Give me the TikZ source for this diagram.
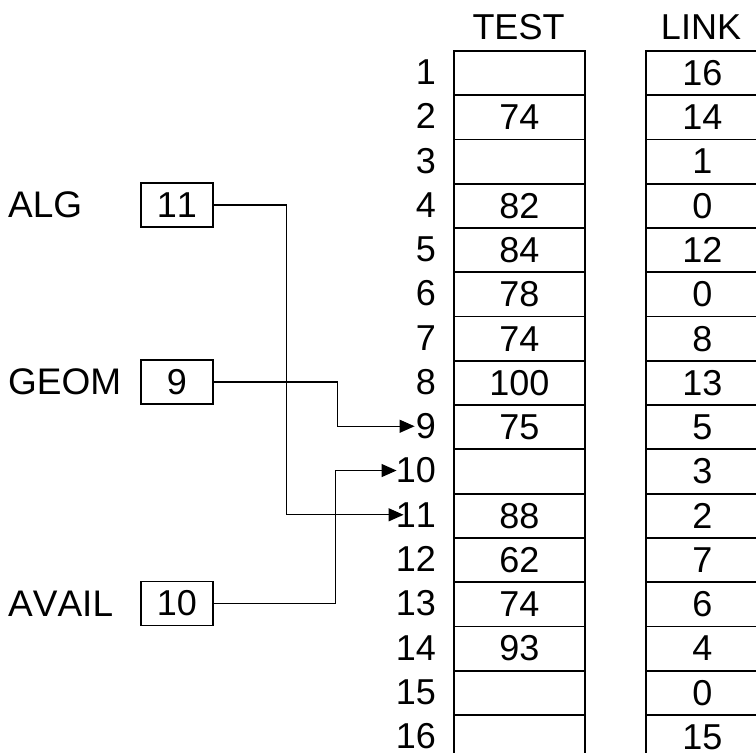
\documentclass[tikz,border=0pt]{standalone}
\usepackage{fontspec}
\setmainfont[Kerning=Off]{Liberation Sans}
\usetikzlibrary{arrows.meta}
\begin{document}
\begin{tikzpicture}[x=1pt,y=-1pt,
  every node/.style={font=\fontsize{36}{40}\selectfont, inner sep=0pt},
  cell/.style={draw, line width=1.8pt, minimum height=44.27pt, anchor=north west},
  testcell/.style={cell, minimum width=131pt},
  linkcell/.style={cell, minimum width=113pt},
  varbox/.style={draw, line width=1.8pt, minimum width=72pt, minimum height=44pt},
  varname/.style={anchor=west, font=\fontsize{37}{40}\selectfont},
  rowlbl/.style={anchor=east},
  ptr/.style={line width=1.3pt, -{Triangle[length=15pt,width=13pt]}},
  wire/.style={line width=1.3pt}]
\useasboundingbox (0,0) rectangle (756,753);
\clip (0,0) rectangle (756,753);

% column headings
\node (hTEST) at (518.5,27) {TEST};
\node (hLINK) at (701,27) {LINK};

% table rows: index, TEST value, LINK value
\foreach \i/\t/\l in {1//16, 2/74/14, 3//1, 4/82/0, 5/84/12, 6/78/0, 7/74/8,
  8/100/13, 9/75/5, 10//3, 11/88/2, 12/62/7, 13/74/6, 14/93/4, 15//0, 16//15} {
  \pgfmathsetmacro{\top}{50+(\i-1)*44.27}
  \node[testcell] (t\i) at (453,\top) {\t};
  \node[linkcell] (l\i) at (645,\top) {\l};
  \node[rowlbl] (r\i) at (436,\top+22.1) {\i};
}

% list heads
\node[varname] (nALG) at (8,205) {ALG};
\node[varbox] (bALG) at (177,205) {11};
\node[varname] (nGEOM) at (8,382) {GEOM};
\node[varbox] (bGEOM) at (177,382) {9};
\node[varname] (nAVAIL) at (8,603.4) {AVAIL};
\node[varbox] (bAVAIL) at (177,603.4) {10};

% pointers into the table
\draw[ptr] (bALG.east) -- (286.5,205) |- ([xshift=8pt]r11.west);
\draw[ptr] (bGEOM.east) -- (337.5,382) |- ([xshift=-1pt]r9.west);
\draw[ptr] (bAVAIL.east) -- (335.5,603.4) |- ([xshift=1pt]r10.west);
\end{tikzpicture}
\end{document}
